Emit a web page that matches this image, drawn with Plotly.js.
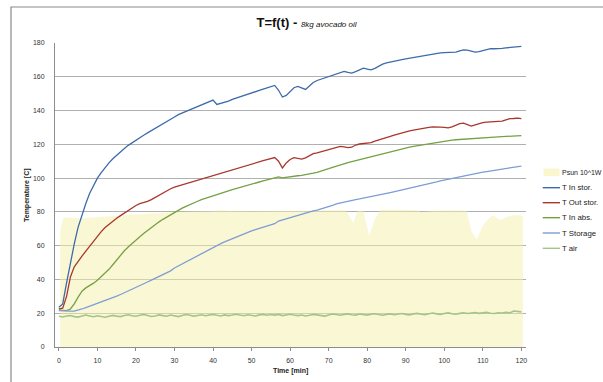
<!DOCTYPE html>
<html>
<head>
<meta charset="utf-8">
<script src="https://cdn.plot.ly/plotly-3.0.1.min.js"></script>
<style>
  html, body { margin: 0; padding: 0; background: #ffffff; }
  #chart { width: 603px; height: 382px; }
</style>
</head>
<body>
<div id="chart"></div>
<script>
// Sampling times for the temperature logs, one reading per minute
const minutes = Array.from({length: 121}, (_, i) => i);

// T In stor. [C]
const tInStor = [
  23.5, 25.5, 38.0, 50.0, 61.0, 71.0, 78.5, 85.0, 91.0, 96.0,
  100.0, 103.3, 106.3, 109.0, 111.5, 113.7, 115.7, 117.6, 119.4, 121.0,
  122.5, 124.0, 125.4, 126.8, 128.1, 129.4, 130.6, 131.8, 133.2, 134.5,
  136.2, 137.6, 138.6, 139.6, 140.6, 141.6, 142.6, 143.5, 144.4, 145.2,
  146.2, 143.6, 144.2, 144.9, 145.6, 146.6, 147.3, 148.0, 148.8, 149.6,
  150.4, 151.2, 151.9, 152.7, 153.4, 154.2, 154.9, 152.0, 148.0, 149.0,
  151.5, 153.5, 154.3, 153.5, 152.5, 154.5, 156.6, 157.8, 158.6, 159.4,
  160.2, 161.0, 161.8, 162.6, 163.2, 162.6, 162.2, 163.0, 164.2, 165.1,
  164.6, 164.1, 165.0, 166.5, 167.5, 168.2, 168.8, 169.3, 169.8, 170.2,
  170.6, 171.0, 171.4, 171.8, 172.1, 172.4, 173.0, 173.6, 174.0, 174.2,
  174.3, 174.4, 174.1, 174.6, 175.3, 175.9, 175.8, 175.1, 174.6, 174.9,
  175.4, 176.0, 176.7, 176.6, 176.5, 176.8, 177.1, 177.4, 177.6, 177.9,
  178.0
];

// T Out stor. [C]
const tOutStor = [
  22.5, 23.0, 30.0, 41.5, 47.5, 51.0, 53.8, 56.8, 59.8, 63.0,
  65.8, 68.3, 70.7, 72.7, 74.5, 76.2, 77.8, 79.4, 80.9, 82.4,
  83.8, 84.9, 85.5, 86.2, 87.3, 88.6, 90.0, 91.3, 92.5, 93.7,
  94.7, 95.4, 96.1, 96.8, 97.4, 98.0, 98.6, 99.2, 100.0, 100.8,
  101.5, 102.2, 102.9, 103.6, 104.3, 105.0, 105.8, 106.5, 107.1, 107.8,
  108.5, 109.1, 109.7, 110.3, 110.9, 111.5, 112.2, 110.0, 106.0, 109.0,
  111.0, 112.1, 111.7, 111.2, 112.0, 113.5, 114.5, 115.0, 115.6, 116.3,
  117.0, 117.6, 118.3, 118.8, 118.5, 118.1, 118.3, 119.6, 120.2, 120.4,
  120.7, 121.0, 121.9, 122.7, 123.4, 124.0, 124.7, 125.4, 126.1, 126.8,
  127.5, 128.0, 128.4, 128.9, 129.4, 129.8, 130.1, 130.3, 130.4, 130.2,
  130.0, 129.8, 130.3, 131.3, 132.3, 132.6, 131.6, 130.8, 131.5, 132.3,
  132.9, 133.2, 133.4, 133.5, 133.7, 133.8, 134.5, 135.2, 135.3, 135.5,
  135.2
];

// T In abs. [C]
const tInAbs = [
  21.8, 21.6, 21.5, 22.5, 25.5, 29.5, 33.0, 35.0, 36.2, 37.8,
  39.5, 41.5, 43.8, 46.0, 48.7, 51.5, 54.3, 57.0, 59.2, 61.4,
  63.5, 65.3, 67.2, 69.0, 70.8, 72.5, 74.1, 75.6, 77.0, 78.4,
  79.8, 81.0, 82.2, 83.3, 84.4, 85.4, 86.3, 87.2, 88.0, 88.9,
  89.7, 90.4, 91.1, 91.8, 92.5, 93.2, 93.9, 94.6, 95.3, 95.9,
  96.5, 97.1, 97.7, 98.3, 98.8, 99.4, 100.0, 100.7, 100.2, 100.6,
  101.0, 101.2, 101.4, 101.6, 101.9, 102.4, 102.9, 103.4, 104.0, 104.8,
  105.6, 106.4, 107.2, 108.0, 108.6, 109.2, 109.8, 110.4, 111.0, 111.6,
  112.1, 112.7, 113.3, 113.9, 114.5, 115.1, 115.6, 116.2, 116.8, 117.3,
  117.9, 118.4, 118.8, 119.2, 119.6, 120.0, 120.4, 120.8, 121.2, 121.6,
  122.0, 122.3, 122.5, 122.7, 122.9, 123.1, 123.3, 123.5, 123.6, 123.8,
  123.9, 124.0, 124.1, 124.3, 124.4, 124.5, 124.7, 124.8, 125.0, 125.1,
  125.2
];

// T Storage [C]
const tStorage = [
  21.5, 21.3, 21.2, 21.2, 21.3, 21.7, 22.5, 23.3, 24.1, 24.9,
  25.8, 26.7, 27.4, 28.3, 29.2, 30.1, 31.1, 32.1, 33.1, 34.1,
  35.2, 36.3, 37.4, 38.5, 39.6, 40.7, 41.8, 42.9, 44.0, 45.1,
  46.8, 48.0, 49.3, 50.5, 51.8, 53.0, 54.2, 55.5, 56.7, 58.0,
  59.2, 60.2, 61.2, 62.2, 63.2, 64.2, 65.2, 66.1, 67.0, 67.9,
  68.8, 69.5, 70.2, 70.9, 71.6, 72.3, 73.0, 74.6, 75.3, 76.0,
  76.8, 77.5, 78.2, 78.8, 79.4, 80.0, 80.6, 81.1, 81.7, 82.3,
  83.1, 83.9, 84.7, 85.3, 85.8, 86.3, 86.8, 87.3, 87.7, 88.1,
  88.5, 89.0, 89.5, 90.0, 90.4, 90.9, 91.4, 91.9, 92.4, 92.9,
  93.4, 93.9, 94.4, 94.9, 95.4, 96.0, 96.6, 97.2, 97.8, 98.4,
  98.9, 99.3, 99.8, 100.3, 100.8, 101.3, 101.8, 102.3, 102.7, 103.1,
  103.5, 103.9, 104.3, 104.7, 105.1, 105.5, 105.9, 106.3, 106.6, 106.9,
  107.1
];

// T air [C]
const tAir = [
  18.2, 17.8, 18.4, 18.6, 18.0, 17.7, 18.3, 18.9, 18.4, 17.9,
  18.5, 18.1, 17.6, 18.2, 18.7, 18.3, 18.0, 18.6, 19.1, 18.5,
  18.2, 18.8, 19.3, 18.7, 18.1, 18.4, 19.0, 18.6, 18.2, 18.9,
  18.5, 18.0, 18.6, 19.2, 18.8, 18.3, 18.7, 19.1, 18.5, 18.9,
  19.3, 18.8, 18.4, 19.0, 18.6, 18.9, 19.4, 18.9, 18.5, 19.1,
  18.7, 18.4, 19.0, 19.3, 18.8, 19.2, 18.9, 19.3, 18.6, 19.0,
  19.4, 18.9, 18.6, 18.9, 18.4, 18.8, 19.3, 19.0, 18.6, 18.3,
  19.0, 19.5, 19.2, 18.8, 19.3, 19.6, 19.1, 18.9, 19.5, 19.2,
  18.9, 19.4, 19.7, 19.2, 18.8, 19.3, 19.6, 19.1, 19.5, 19.8,
  19.3, 19.0, 19.6, 19.9, 19.4, 19.2, 19.7, 20.1, 19.6, 19.3,
  19.8, 20.2, 19.7, 19.4, 19.9, 20.3, 19.8, 20.1, 20.4, 19.9,
  20.2, 20.5, 20.0, 19.8, 20.3, 20.1, 20.5, 20.2, 21.3, 21.0,
  20.8
];

// Solar power (scaled, 10^1 W) – logged at irregular times
const psunTime = [
  0.35, 0.6, 1.2, 3, 6, 10, 15, 20, 25, 30,
  35, 40, 42, 45, 50, 55, 60, 65, 70, 74.5,
  76.4, 77.5, 79, 80.5, 82, 83.5, 88, 93, 94, 98,
  103, 105.8, 107, 108.4, 110, 111.5, 112.7, 114.5, 116.2, 117.9,
  120, 120.4
];
const psunVal = [
  66, 72, 76.7, 76.4, 76.2, 77.0, 77.8, 78.8, 79.5, 80.0,
  80.3, 80.4, 80.9, 80.5, 80.4, 80.5, 80.6, 81.0, 81.2, 81.0,
  73.4, 80.5, 80.7, 66.0, 76.0, 81.2, 81.2, 81.0, 80.0, 80.7,
  80.8, 80.5, 69.0, 63.6, 72.0, 76.0, 78.0, 75.0, 77.0, 78.0,
  77.8, 77.5
];

const seriesNames = ['Psun 10^1W', 'T In stor.', 'T Out stor.', 'T In abs.', 'T Storage', 'T air'];
const seriesColors = ['rgba(246,241,170,0.5)', '#3e6ba9', '#a8372d', '#76a043', '#7d9dd4', '#a3c48a'];
const seriesWidths = [0, 1.3, 1.3, 1.3, 1.3, 1.6];

const FONT = 'Liberation Sans, Arial, sans-serif';

const traces = [
  {
    x: psunTime, y: psunVal, name: seriesNames[0], type: 'scatter', mode: 'lines',
    fill: 'tozeroy', fillcolor: seriesColors[0], line: {width: 0, color: seriesColors[0]},
    hoverinfo: 'skip'
  }
];
[tInStor, tOutStor, tInAbs, tStorage, tAir].forEach((vals, k) => {
  traces.push({
    x: minutes, y: vals, name: seriesNames[k + 1], type: 'scatter', mode: 'lines',
    line: {color: seriesColors[k + 1], width: seriesWidths[k + 1]}
  });
});

// plot area in pixels: x 55..526, y 43..347
const PL = 55, PR = 526, PT = 43, PB = 347;
const px = v => (v - PL) / (PR - PL);
const py = v => (PB - v) / (PB - PT);

// legend at the right of the plot
const shapes = [];
const annotations = [];
const legendRows = [172.3, 187.7, 202.7, 217.7, 233.0, 248.3];
legendRows.forEach((yy, i) => {
  if (i === 0) {
    shapes.push({type: 'rect', xref: 'paper', yref: 'paper',
      x0: px(543.5), x1: px(559.5), y0: py(176), y1: py(168.5),
      fillcolor: '#faf6ce', line: {width: 0}});
  } else {
    shapes.push({type: 'line', xref: 'paper', yref: 'paper',
      x0: px(542.7), x1: px(560), y0: py(yy), y1: py(yy),
      line: {color: seriesColors[i], width: 1.4}});
  }
  annotations.push({xref: 'paper', yref: 'paper', x: px(560.5), y: py(yy),
    xanchor: 'left', yanchor: 'middle', showarrow: false, borderpad: 0,
    text: seriesNames[i], font: {family: FONT, size: i === 0 ? 7 : 7.8, color: '#222'}});
});

// chart frame (top and left edges)
shapes.push({type: 'path', xref: 'paper', yref: 'paper',
  path: `M ${px(11)} ${py(400)} L ${px(11)} ${py(7)} L ${px(620)} ${py(7)}`,
  line: {color: '#8a8a8a', width: 1.2}});

// axis titles
annotations.push({xref: 'paper', yref: 'paper', x: px(27), y: 0.5, textangle: -90,
  xanchor: 'center', yanchor: 'middle', showarrow: false,
  text: '<b>Temperature [C]</b>', font: {family: FONT, size: 7, color: '#222'}});
annotations.push({xref: 'paper', yref: 'paper', x: px(290), y: py(371),
  xanchor: 'center', yanchor: 'middle', showarrow: false,
  text: '<b>Time [min]</b>', font: {family: FONT, size: 7, color: '#222'}});

const layout = {
  width: 603, height: 382,
  margin: {l: PL, r: 603 - PR, t: PT, b: 382 - PB, pad: 0},
  paper_bgcolor: '#ffffff', plot_bgcolor: '#ffffff',
  showlegend: false,
  title: {
    text: '<b>T=f(t) - </b><i><span style="font-size:8px">8kg avocado oil</span></i>',
    x: 306.5 / 603, xanchor: 'center', y: 1 - 22 / 382, yanchor: 'middle',
    font: {family: FONT, size: 13, color: '#111'}
  },
  xaxis: {
    range: [-1.0, 121.2], tick0: 0, dtick: 10, showgrid: false, zeroline: false,
    showline: true, linecolor: '#8c8c8c', linewidth: 1,
    ticks: 'outside', ticklen: 3, tickcolor: '#8c8c8c',
    ticklabelstandoff: 4,
    tickfont: {family: FONT, size: 7, color: '#333'}
  },
  yaxis: {
    range: [0, 180], tick0: 0, dtick: 20, showgrid: true, gridcolor: '#b0b0b0', gridwidth: 1,
    zeroline: false, showline: true, linecolor: '#8c8c8c', linewidth: 1,
    ticks: '', ticklabelstandoff: 8,
    tickfont: {family: FONT, size: 7, color: '#333'}
  },
  shapes: shapes,
  annotations: annotations
};

Plotly.newPlot('chart', traces, layout, {displayModeBar: false, staticPlot: true});
</script>
</body>
</html>
